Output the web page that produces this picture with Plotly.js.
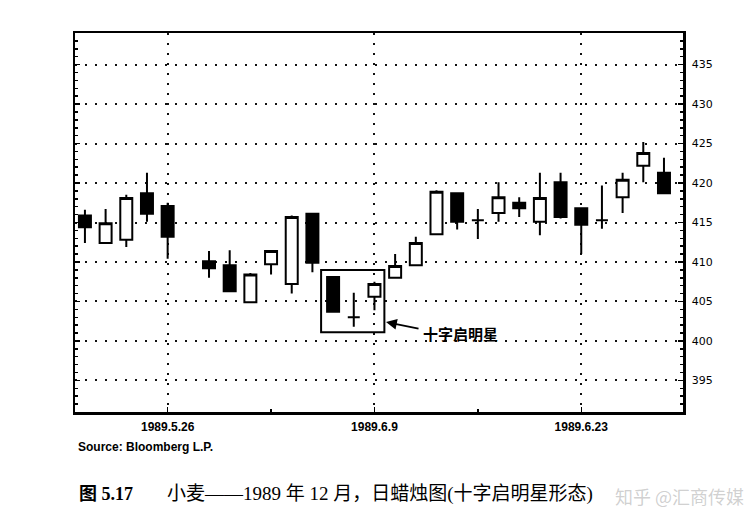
<!DOCTYPE html>
<html>
<head>
<meta charset="utf-8">
<script src="https://cdn.plot.ly/plotly-3.0.1.min.js"></script>
<style>html,body{margin:0;padding:0;background:#fff;}#chart{width:755px;height:532px;}</style>
</head>
<body>
<div id="chart"></div>
<script>
// Trading dates (1989.5.29 was a holiday: its slot stays empty)
var dates = ['1989-05-22','1989-05-23','1989-05-24','1989-05-25','1989-05-26',
             '1989-05-30','1989-05-31','1989-06-01','1989-06-02',
             '1989-06-05','1989-06-06','1989-06-07','1989-06-08','1989-06-09',
             '1989-06-12','1989-06-13','1989-06-14','1989-06-15','1989-06-16',
             '1989-06-19','1989-06-20','1989-06-21','1989-06-22','1989-06-23',
             '1989-06-26','1989-06-27','1989-06-28','1989-06-29'];
var openV  = [415.9,412.4,412.8,418.7,417.1, 410.1,409.6,404.9,409.7, 407.2,416.1,408.1,403.0,405.6,
              408.0,409.6,413.5,418.7,415.3, 416.2,417.5,415.1,420.1,416.8, 415.3,418.2,422.2,421.3];
var highV  = [416.6,416.7,418.5,421.3,417.5, 411.4,411.5,408.6,411.5, 415.9,416.2,408.2,406.1,407.5,
              411.0,413.2,419.1,418.8,416.7, 420.1,418.2,421.3,421.3,416.8, 419.7,421.3,425.2,423.2];
var lowV   = [412.4,412.3,411.9,415.1,410.4, 408.0,406.2,404.9,408.4, 406.0,408.7,403.6,401.8,403.9,
              408.0,409.6,413.5,414.1,412.9, 415.1,415.7,413.4,415.5,411.0, 414.2,416.2,420.1,418.7];
var closeV = [414.4,414.9,418.1,416.1,413.2, 409.2,406.3,408.4,411.4, 415.7,409.9,403.7,403.0,407.2,
              409.5,412.4,418.9,415.1,415.3, 418.2,416.8,418.1,415.7,414.7, 415.3,420.4,423.8,418.7];

var tickDates  = ['1989-05-26','1989-06-09','1989-06-23'];
var tickLabels = ['1989.5.26','1989.6.9','1989.6.23'];
var minorTickDates = ['1989-06-02','1989-06-16'];
var yTicks = [395,400,405,410,415,420,425,430,435];

var patternDates = ['1989-06-07','1989-06-09'];
var patternLabel = '十字启明星';
var sourceText = 'Source: Bloomberg L.P.';
var figNo = '图 5.17';
var caption = '小麦——1989 年 12 月，日蜡烛图(十字启明星形态)';
var watermark = '知乎 @汇商传媒';

// weekday slot index counted from the first date
function slot(d) {
  var t0 = Date.UTC(1989,4,22);
  var p = d.split('-');
  var t = Date.UTC(+p[0], +p[1]-1, +p[2]);
  var n = 0;
  for (var x = t0; x < t; x += 86400000) {
    var wd = new Date(x).getUTCDay();
    if (wd !== 0 && wd !== 6) n++;
  }
  return n;
}
var xs = dates.map(slot);
var lastX = xs[xs.length-1];

var trace = {
  type: 'candlestick',
  x: xs, open: openV, high: highV, low: lowV, close: closeV,
  whiskerwidth: 0,
  increasing: {line: {color: '#000', width: 2}, fillcolor: '#fff'},
  decreasing: {line: {color: '#000', width: 2}, fillcolor: '#000'},
  showlegend: false, hoverinfo: 'none'
};

var dotGrid = '2px,8px';
var W = 755, H = 532, ML = 75, MR = 72, MT = 33, MB = 120;
function px(xp) { return (xp - ML) / (W - ML - MR); }
function py(yp) { return (H - MB - yp) / (H - MT - MB); }

var layout = {
  width: W, height: H,
  margin: {l: ML, r: MR, t: MT, b: MB},
  paper_bgcolor: '#fff', plot_bgcolor: '#fff',
  showlegend: false,
  boxgap: 0.42, boxgroupgap: 0,
  xaxis: {
    type: 'linear',
    range: [xs[0]-0.48, lastX+0.92],
    tickmode: 'array',
    tickvals: tickDates.map(slot), ticktext: tickLabels,
    ticks: 'inside', ticklen: 5, tickwidth: 1.5, tickcolor: '#000',
    showgrid: true, gridcolor: '#111', gridwidth: 2, griddash: dotGrid,
    showline: true, linecolor: '#000', linewidth: 2.5, mirror: true,
    zeroline: false, fixedrange: true,
    ticklabelstandoff: 2,
    tickfont: {family: 'Liberation Sans, Arial, sans-serif', size: 12, color: '#000', weight: 'bold'},
    minor: {tickmode: 'array', tickvals: minorTickDates.map(slot), ticks: 'inside', ticklen: 3, tickcolor: '#000', showgrid: false},
    rangeslider: {visible: false}
  },
  yaxis: {
    side: 'right',
    range: [391, 439],
    tickmode: 'array', tickvals: yTicks,
    ticks: 'inside', ticklen: 5, tickwidth: 1.5, tickcolor: '#000',
    showgrid: true, gridcolor: '#111', gridwidth: 2, griddash: dotGrid,
    showline: true, linecolor: '#000', linewidth: 2.5, mirror: 'ticks',
    zeroline: false, fixedrange: true,
    ticklabelstandoff: 4,
    tickfont: {family: 'DejaVu Sans, sans-serif', size: 11, color: '#000'},
    minor: {dtick: 1, tick0: 0, ticks: 'inside', ticklen: 3, tickcolor: '#000', showgrid: false}
  },
  shapes: [{
    type: 'rect', xref: 'x', yref: 'y',
    x0: slot(patternDates[0]) - 0.58, x1: slot(patternDates[1]) + 0.48,
    y0: 401.1, y1: 409.0,
    line: {color: '#000', width: 2}, fillcolor: 'rgba(0,0,0,0)'
  }],
  annotations: [
    {x: slot(patternDates[1]) + 0.56, y: 402.4, xref: 'x', yref: 'y',
     text: '', showarrow: true, ax: 34, ay: 7, arrowhead: 2, arrowsize: 1.2, arrowwidth: 1.8, arrowcolor: '#000'},
    {x: px(421), y: py(333), xref: 'paper', yref: 'paper', xanchor: 'left', yanchor: 'middle',
     text: '<b>' + patternLabel + '</b>', showarrow: false,
     font: {family: 'Noto Sans CJK SC, sans-serif', size: 15, color: '#000'}},
    {x: px(76), y: py(447), xref: 'paper', yref: 'paper', xanchor: 'left', yanchor: 'middle',
     text: '<b>' + sourceText + '</b>', showarrow: false,
     font: {family: 'Liberation Sans, Arial, sans-serif', size: 12, color: '#000'}},
    {x: px(77), y: py(494), xref: 'paper', yref: 'paper', xanchor: 'left', yanchor: 'middle',
     text: '<b>' + figNo + '</b>', showarrow: false,
     font: {family: 'Liberation Serif, Noto Sans CJK SC, serif', size: 18, color: '#000'}},
    {x: px(165), y: py(494), xref: 'paper', yref: 'paper', xanchor: 'left', yanchor: 'middle',
     text: caption, showarrow: false,
     font: {family: 'Liberation Serif, Noto Sans CJK SC, serif', size: 19, color: '#000'}},
    {x: px(746), y: py(496), xref: 'paper', yref: 'paper', xanchor: 'right', yanchor: 'middle',
     text: watermark, showarrow: false,
     font: {family: 'Noto Sans CJK SC, sans-serif', size: 18, color: 'rgba(150,150,150,0.45)'}}
  ]
};

Plotly.newPlot('chart', [trace], layout, {staticPlot: true, displayModeBar: false});
</script>
</body>
</html>
